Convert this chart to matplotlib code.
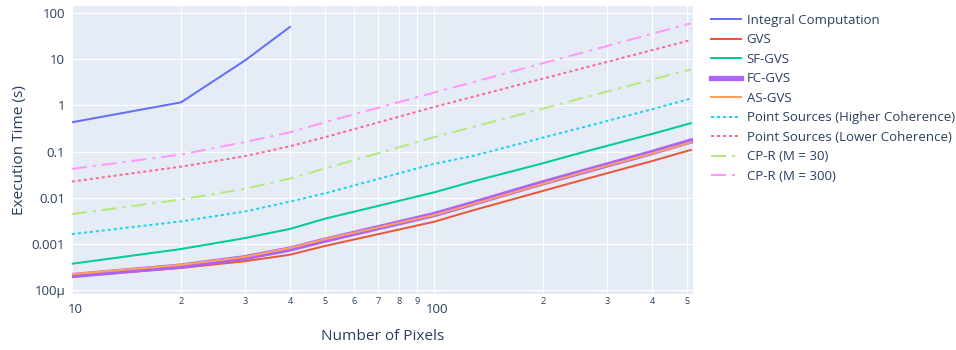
import matplotlib.pyplot as plt
from matplotlib.ticker import FixedLocator, FixedFormatter
from matplotlib.transforms import ScaledTranslation

plt.rcParams['font.family'] = ['Open Sans', 'DejaVu Sans']
plt.rcParams['lines.scale_dashes'] = False

# Execution times (s) against image size in pixels
pixels = [10, 20, 30, 40, 50, 100, 128, 200, 256, 400, 512]
integral_pixels = [10, 20, 30, 40]
integral = [0.43, 1.16, 9.3, 50]
gvs = [1.95e-4, 3.0e-4, 4.2e-4, 5.8e-4, 9.0e-4, 3.0e-3, 5.3e-3, 0.0140, 0.024, 0.062, 0.108]
sf_gvs = [3.7e-4, 7.7e-4, 1.33e-3, 2.1e-3, 3.5e-3, 0.013, 0.0224, 0.0557, 0.095, 0.24, 0.41]
fc_gvs = [2.05e-4, 3.3e-4, 5.0e-4, 7.7e-4, 1.2e-3, 4.3e-3, 7.5e-3, 0.021, 0.036, 0.095, 0.168]
as_gvs = [2.2e-4, 3.5e-4, 5.2e-4, 8.1e-4, 1.26e-3, 4.2e-3, 7.2e-3, 0.020, 0.035, 0.091, 0.158]
ps_high = [1.62e-3, 3.06e-3, 5.0e-3, 8.2e-3, 0.0124, 0.054, 0.08, 0.2, 0.33, 0.82, 1.4]
ps_low = [0.0223, 0.047, 0.079, 0.13, 0.204, 0.92, 1.53, 3.8, 6.3, 15.7, 25.9]
cpr_30 = [4.4e-3, 9.1e-3, 0.0155, 0.026, 0.043, 0.204, 0.34, 0.85, 1.43, 3.6, 6.0]
cpr_300 = [0.042, 0.086, 0.16, 0.26, 0.43, 1.89, 3.16, 8.2, 13.7, 35.5, 59.7]

y_ticks = [1e-4, 1e-3, 1e-2, 1e-1, 1, 10, 100]
y_labels = ['100µ', '0.001', '0.01', '0.1', '1', '10', '100']
x_major = [10, 100]
x_major_labels = ['10', '100']
x_minor = [20, 30, 40, 50, 60, 70, 80, 90, 200, 300, 400, 500]
x_minor_labels = ['2', '3', '4', '5', '6', '7', '8', '9', '2', '3', '4', '5']

text_color = '#2a3f5f'
lw = 1.44
dot = (0, (2.16, 2.16))
dashdot = (0, (10.8, 4.32, 2.16, 4.32))
tick_size = 9.5
title_size = 11.1

fig = plt.figure(figsize=(9.56, 3.5), dpi=100)
ax = fig.add_axes([72 / 956, 1 - 294 / 350, (693 - 72) / 956, (294 - 6) / 350])
ax.set_facecolor('#E5ECF6')

ax.plot(integral_pixels, integral, color='#636EFA', lw=lw, label='Integral Computation')
ax.plot(pixels, gvs, color='#EF553B', lw=lw, label='GVS')
ax.plot(pixels, sf_gvs, color='#00CC96', lw=lw, label='SF-GVS')
ax.plot(pixels, fc_gvs, color='#AB63FA', lw=3.8, label='FC-GVS')
ax.plot(pixels, as_gvs, color='#FFA15A', lw=lw, label='AS-GVS')
ax.plot(pixels, ps_high, color='#19D3F3', lw=lw, ls=dot, label='Point Sources (Higher Coherence)')
ax.plot(pixels, ps_low, color='#FF6692', lw=lw, ls=dot, label='Point Sources (Lower Coherence)')
ax.plot(pixels, cpr_30, color='#B6E880', lw=lw, ls=dashdot, label='CP-R (M = 30)')
ax.plot(pixels, cpr_300, color='#FF97FF', lw=lw, ls=dashdot, label='CP-R (M = 300)')

ax.set_xscale('log')
ax.set_yscale('log')
ax.set_xlim(10, 519.4)
ax.set_ylim(8.18e-5, 142)

ax.yaxis.set_major_locator(FixedLocator(y_ticks))
ax.yaxis.set_major_formatter(FixedFormatter(y_labels))
ax.yaxis.set_minor_locator(FixedLocator([]))
ax.xaxis.set_major_locator(FixedLocator(x_major))
ax.xaxis.set_major_formatter(FixedFormatter(x_major_labels))
ax.xaxis.set_minor_locator(FixedLocator(x_minor))
ax.xaxis.set_minor_formatter(FixedFormatter(x_minor_labels))

ax.tick_params(axis='y', which='both', length=0, pad=5, labelsize=tick_size, labelcolor=text_color)
ax.tick_params(axis='x', which='major', length=0, pad=6.5, labelsize=tick_size, labelcolor=text_color)
ax.tick_params(axis='x', which='minor', length=0, pad=2.5, labelsize=6.6, labelcolor=text_color)
for lab in ax.xaxis.get_majorticklabels():
    lab.set_transform(lab.get_transform() + ScaledTranslation(3 / 100, 0, fig.dpi_scale_trans))

ax.grid(True, which='major', axis='both', color='white', lw=0.8)
ax.grid(True, which='minor', axis='x', color='white', lw=0.8)
ax.set_axisbelow(True)
for s in ax.spines.values():
    s.set_visible(False)

fig.text(382.5 / 956, 1 - 337 / 350, 'Number of Pixels', ha='center', va='center',
         fontsize=title_size, color=text_color)
fig.text(20 / 956, 1 - 150 / 350, 'Execution Time (s)', ha='center', va='center',
         rotation=90, fontsize=title_size, color=text_color)

fig.legend(loc='upper left', bbox_to_anchor=(711 / 956, 1 - 14 / 350), frameon=False,
           borderpad=0, borderaxespad=0, handlelength=2.27, handletextpad=0.43,
           labelspacing=0.49, fontsize=tick_size, labelcolor=text_color)

fig.savefig('out.png', dpi=100)
